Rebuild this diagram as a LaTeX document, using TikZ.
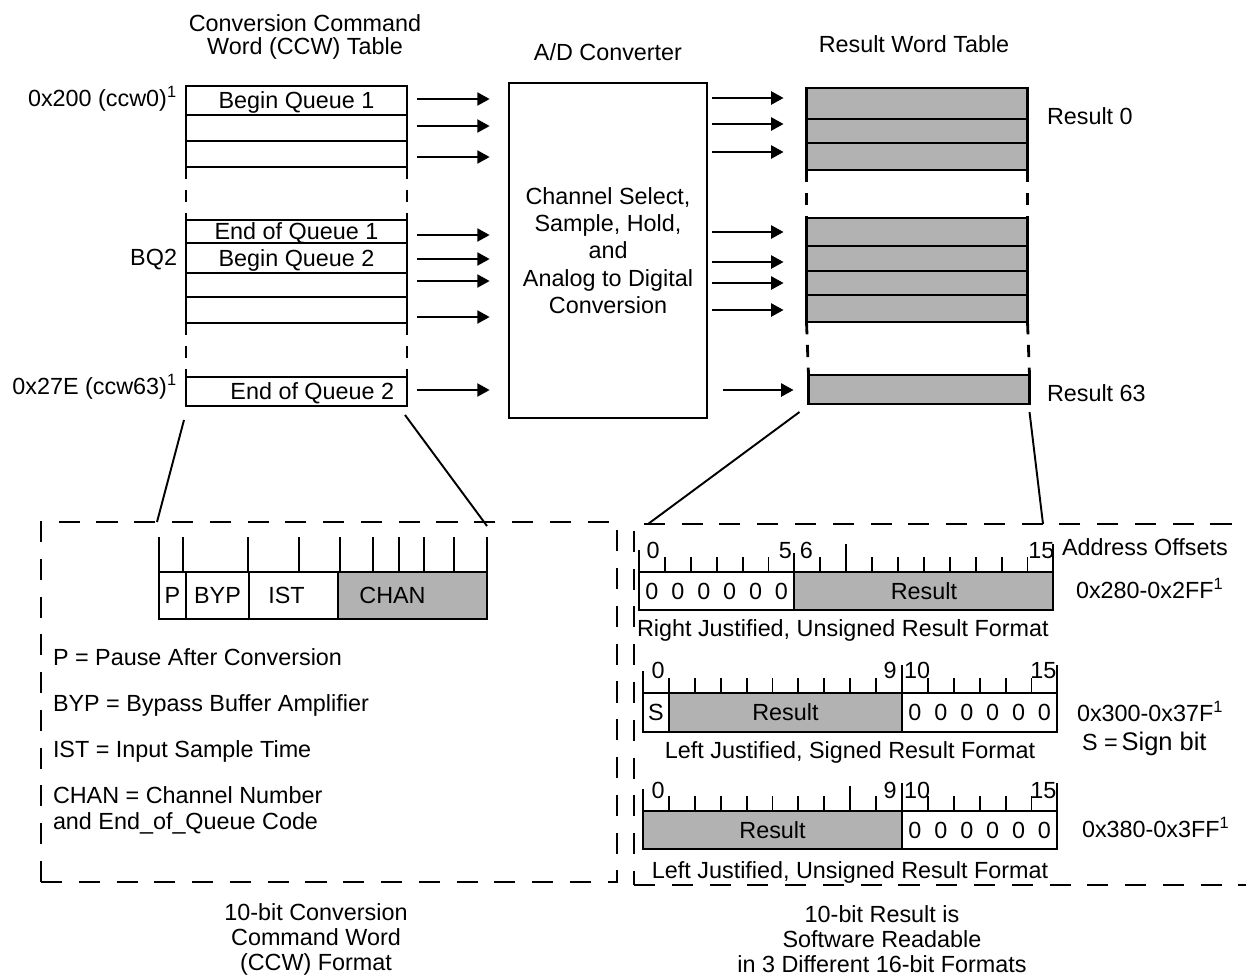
\documentclass[tikz,border=0pt]{standalone}
\usepackage{fontspec}
\setmainfont{Liberation Sans}
\usetikzlibrary{arrows.meta,positioning,calc}

\providecommand{\PX}{0.02cm}
\providecommand{\BW}{25.9}
\providecommand{\FS}{\fontsize{13.3}{15.3}\selectfont}

\tikzset{
  txt/.style={inner sep=0pt, outer sep=0pt, text height=9.5pt, text depth=0pt},
  block/.style={inner sep=0pt, outer sep=0pt},
  ccwrow/.style={draw, line width=1.6pt, inner sep=0pt, outer sep=0pt,
                 minimum width={221*\PX}, text height=9.5pt, text depth=0pt},
  resrow/.style={ccwrow, fill=black!30},
  gap/.style={line width=1.6pt, dash pattern=on 7pt off 6pt},
  arr/.style={line width=0.9pt, -{Triangle[length=7pt,width=7.5pt]}},
  dbox/.style={draw, line width=1.3pt, dash pattern=on 12pt off 9.5pt,
               inner sep=0pt, outer sep=0pt},
  zoomline/.style={line width=1.1pt},
  cell/.style={draw, line width=1.2pt, inner sep=0pt, outer sep=0pt,
               text height=9.5pt, text depth=0pt},
  shade/.style={cell, fill=black!30},
  tick/.style={line width=1.1pt}
}

\begin{document}
\begin{tikzpicture}[x=0.02cm, y=-0.02cm, font=\FS]
\useasboundingbox (0,0) rectangle (1246,977);

% titles
\node[block, align=center, font=\fontsize{13.3}{13.6}\selectfont] (ccwtitle) at (305,37)
  {Conversion Command\\Word (CCW) Table};
\node[txt] (adtitle) at (608,52) {A/D Converter};
\node[txt] (restitle) at (914,44) {Result Word Table};

% CCW table
\node[ccwrow, minimum height={29*\PX}] (c1) at (296.5,100.5) {Begin Queue 1};
\node[ccwrow, minimum height={26*\PX}, below=0pt of c1] (c2) {};
\node[ccwrow, minimum height={26*\PX}, below=0pt of c2] (c3) {};
\node[ccwrow, minimum height={23*\PX}] (c4) at (296.5,231.5) {End of Queue 1};
\node[ccwrow, minimum height={30*\PX}, below=0pt of c4] (c5) {Begin Queue 2};
\node[ccwrow, minimum height={24*\PX}, below=0pt of c5] (c6) {};
\node[ccwrow, minimum height={26*\PX}, below=0pt of c6] (c7) {};
\node[ccwrow, minimum height={29*\PX}] (c8) at (296.5,391.5) {\hspace*{18pt}End of Queue 2};

\draw[gap] (c3.south west) -- (c4.north west);
\draw[gap] (c3.south east) -- (c4.north east);
\draw[gap] (c7.south west) -- (c8.north west);
\draw[gap] (c7.south east) -- (c8.north east);

\node[txt, anchor=east] (addr0) at ($(c1.west)+(-9,-2)$) {0x200 (ccw0)\textsuperscript{1}};
\node[txt, anchor=east] (bq2) at ($(c5.west)+(-9,-1)$) {BQ2};
\node[txt, anchor=east] (addr63) at ($(c8.west)+(-9,-5)$) {0x27E (ccw63)\textsuperscript{1}};

% converter
\node[draw, line width=1.6pt, minimum width={198*\PX}, minimum height={335*\PX},
      align=center, font=\fontsize{13.3}{15.5}\selectfont] (ad) at (608,250.5)
  {Channel Select,\\Sample, Hold,\\and\\Analog to Digital\\Conversion};

% result table
\node[resrow, minimum height={31*\PX}] (r1) at (917,103.5) {};
\node[resrow, minimum height={24*\PX}, below=0pt of r1] (r2) {};
\node[resrow, minimum height={27*\PX}, below=0pt of r2] (r3) {};
\node[resrow, minimum height={28*\PX}] (r4) at (917,232) {};
\node[resrow, minimum height={25*\PX}, below=0pt of r4] (r5) {};
\node[resrow, minimum height={24*\PX}, below=0pt of r5] (r6) {};
\node[resrow, minimum height={27*\PX}, below=0pt of r6] (r7) {};
\node[resrow, minimum height={29*\PX}] (r8) at (919,389.5) {};

\draw[gap] (r3.south west) -- (r4.north west);
\draw[gap] (r3.south east) -- (r4.north east);
\draw[gap] (r7.south west) -- (r8.north west);
\draw[gap] (r7.south east) -- (r8.north east);

\node[txt, anchor=west] (res0) at (1047,116) {Result 0};
\node[txt, anchor=west] (res63) at (1047,393) {Result 63};

% CCW -> converter
\foreach \k/\dy in {1/-1.5, 2/-2, 3/3, 4/3.5, 5/1, 6/-4, 7/7, 8/-1.5}
  \draw[arr] ($(c\k.east)+(10,\dy)$) -- ($(ad.west |- c\k.east)+(-18,\dy)$);

% converter -> results
\foreach \k/\dy/\sa/\sb in {1/-5.5/4/23, 2/-7/4/23, 3/-4.5/4/23, 4/0/4/23,
                            5/3.5/4/23, 6/0/4/23, 7/1.5/4/23, 8/0.5/15/15}
  \draw[arr] ($(ad.east |- r\k.west)+(\sa,\dy)$) -- ($(r\k.west)+(-\sb,\dy)$);

% format boxes
\node[dbox, minimum width={576*\PX}, minimum height={360*\PX}] (ccwfmt) at (329,702) {};
\node[dbox, minimum width={666*\PX}, minimum height={361*\PX}] (resfmt) at (967,704.5) {};

\draw[zoomline] ($(c8.south west)+(-2,14)$) -- ($(ccwfmt.north west)+(116,0)$);
\draw[zoomline] ($(c8.south east)+(-2,9)$) -- ($(ccwfmt.north west)+(446,4)$);
\draw[zoomline] ($(r8.south west)+(-9,8)$) -- ($(resfmt.north west)+(14,0)$);
\draw[zoomline] ($(r8.south east)+(0,8)$) -- ($(resfmt.north west)+(409,0)$);

% CCW format
\node[cell, minimum width={27*\PX}, minimum height={47*\PX}] (fP) at (172.5,595.5) {P};
\node[cell, minimum width={63*\PX}, minimum height={47*\PX}, right=0pt of fP] (fBYP) {BYP};
\node[cell, minimum width={89*\PX}, minimum height={47*\PX}, right=0pt of fBYP] (fIST) {};
\node[shade, minimum width={149*\PX}, minimum height={47*\PX}, right=0pt of fIST] (fCHAN) {};
\node[txt] (tIST) at ($(fIST)+(-7,0)$) {IST};
\node[txt] (tCHAN) at ($(fCHAN)+(-20,0)$) {CHAN};
\foreach \dx in {0,24,89,140,181,214,240,265,295,328}
  \draw[tick] ($(fP.north west)+(\dx,0)$) -- ++(0,-35);

\node[txt, anchor=west] (lgP) at (53,657) {P = Pause After Conversion};
\node[txt, anchor=west] (lgBYP) at (53,703) {BYP = Bypass Buffer Amplifier};
\node[txt, anchor=west] (lgIST) at (53,749) {IST = Input Sample Time};
\node[block, anchor=west, align=left, font=\fontsize{13.3}{14.7}\selectfont] (lgCHAN) at (53,810)
  {CHAN = Channel Number\\and End\_of\_Queue Code};

\node[block, align=center, font=\fontsize{13.3}{14.2}\selectfont] (ccwcap) at (316,939)
  {10-bit Conversion\\Command Word\\(CCW) Format};

% right justified, unsigned
\node[cell, minimum width={6*\BW*\PX}, minimum height={38*\PX}] (zA) at ({639+3*\BW},591) {};
\node[shade, minimum width={10*\BW*\PX}, minimum height={38*\PX}, right=0pt of zA] (resA) {Result};
\foreach \k in {0,...,5}
  \node[txt] (zA\k) at ($(zA.west)+({(\k+0.5)*\BW},0)$) {0};
\foreach \k in {1,...,15}
  \draw[tick] ($(zA.north west)+({\k*\BW},0)$) -- ++(0,-15);
\foreach \k/\h in {0/22, 6/19, 8/28, 16/28}
  \draw[tick] ($(zA.north west)+({\k*\BW},0)$) -- ++(0,-\h);
\node[txt] (bA0) at ($(zA.north west)+(14,-22)$) {0};
\node[txt] (bA5) at ($(zA.north west)+({6*\BW-9},-22)$) {5};
\node[txt] (bA6) at ($(zA.north west)+({6*\BW+12},-22)$) {6};
\node[txt] (bA15) at ($(zA.north west)+({16*\BW-12},-22)$) {15};
\node[txt, anchor=west] (capA) at (637,628) {Right Justified, Unsigned Result Format};

% left justified, signed
\node[cell, minimum width={\BW*\PX}, minimum height={39*\PX}] (sB) at ({643+\BW/2},712.5) {S};
\node[shade, minimum width={9*\BW*\PX}, minimum height={39*\PX}, right=0pt of sB] (resB) {Result};
\node[cell, minimum width={6*\BW*\PX}, minimum height={39*\PX}, right=0pt of resB] (zB) {};
\foreach \k in {0,...,5}
  \node[txt] (zB\k) at ($(zB.west)+({(\k+0.5)*\BW},0)$) {0};
\foreach \k in {1,...,15}
  \draw[tick] ($(sB.north west)+({\k*\BW},0)$) -- ++(0,-15);
\foreach \k/\h in {0/22, 10/28, 16/28}
  \draw[tick] ($(sB.north west)+({\k*\BW},0)$) -- ++(0,-\h);
\node[txt] (bB0) at ($(sB.north west)+(15,-23)$) {0};
\node[txt] (bB9) at ($(sB.north west)+({10*\BW-12},-23)$) {9};
\node[txt] (bB10) at ($(sB.north west)+({10*\BW+15},-23)$) {10};
\node[txt] (bB15) at ($(sB.north west)+({16*\BW-14},-23)$) {15};
\node[txt] (capB) at (850,750) {Left Justified, Signed Result Format};

% left justified, unsigned
\node[shade, minimum width={10*\BW*\PX}, minimum height={38*\PX}] (resC) at ({643+5*\BW},830) {Result};
\node[cell, minimum width={6*\BW*\PX}, minimum height={38*\PX}, right=0pt of resC] (zC) {};
\foreach \k in {0,...,5}
  \node[txt] (zC\k) at ($(zC.west)+({(\k+0.5)*\BW},0)$) {0};
\foreach \k in {1,...,15}
  \draw[tick] ($(resC.north west)+({\k*\BW},0)$) -- ++(0,-15);
\foreach \k/\h in {0/22, 8/25, 10/28, 16/28}
  \draw[tick] ($(resC.north west)+({\k*\BW},0)$) -- ++(0,-\h);
\node[txt] (bC0) at ($(resC.north west)+(15,-21)$) {0};
\node[txt] (bC9) at ($(resC.north west)+({10*\BW-12},-21)$) {9};
\node[txt] (bC10) at ($(resC.north west)+({10*\BW+15},-21)$) {10};
\node[txt] (bC15) at ($(resC.north west)+({16*\BW-14},-21)$) {15};
\node[txt] (capC) at (850,870) {Left Justified, Unsigned Result Format};

% address offsets
\node[txt, anchor=west] (offs) at (1062,547) {Address Offsets};
\node[txt, anchor=west] (offA) at (1076,590) {0x280-0x2FF\textsuperscript{1}};
\node[txt, anchor=west] (offB) at (1077,713) {0x300-0x37F\textsuperscript{1}};
\node[txt, anchor=west] (sign) at (1082,742) {S =\,{\fontsize{14.5}{16}\selectfont Sign bit}};
\node[txt, anchor=west] (offC) at (1082,829) {0x380-0x3FF\textsuperscript{1}};

\node[block, align=center, font=\fontsize{13.3}{14.2}\selectfont] (rescap) at (882,939)
  {10-bit Result is\\Software Readable\\in 3 Different 16-bit Formats};

\end{tikzpicture}
\end{document}
